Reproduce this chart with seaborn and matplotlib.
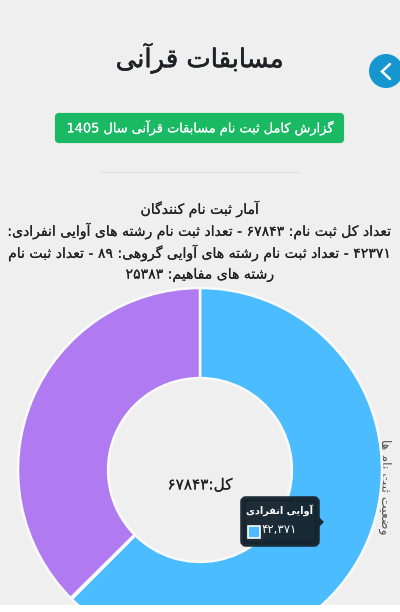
"""
Quran competition registration report, donut of registrations by category
"""
import matplotlib
matplotlib.use("Agg")
import matplotlib.pyplot as plt
import matplotlib.patheffects as pe
import seaborn as sns
from matplotlib.patches import Circle, FancyBboxPatch, Polygon, Rectangle

# data
categories = ['آوایی انفرادی', 'آوایی گروهی', 'مفاهیم']
values = [42371, 89, 25383]
colors = ['#4bbcff', '#7ed6a5', '#b07af0']

title = 'مسابقات قرآنی'
button_text = 'گزارش کامل ثبت نام مسابقات قرآنی سال 1405'
stats_lines = [
    'آمار ثبت نام کنندگان',
    'تعداد کل ثبت نام: ۶۷۸۴۳ - تعداد ثبت نام رشته های آوایی انفرادی:',
    '۴۲۳۷۱ - تعداد ثبت نام رشته های آوایی گروهی: ۸۹ - تعداد ثبت نام',
    'رشته های مفاهیم: ۲۵۳۸۳',
]
center_text = 'کل:۶۷۸۴۳'
side_label = 'وضعیت ثبت نام ها'
tooltip_value = '۴۲,۳۷۱'

BG = '#efefef'

# matplotlib does no Arabic shaping, so pick the joined forms by hand
# letter: (isolated, final, initial, medial), initial None = does not join forward
FORMS = {
    'ا': ('\uFE8D', '\uFE8E', None, None),
    'آ': ('\uFE81', '\uFE82', None, None),
    'ب': ('\uFE8F', '\uFE90', '\uFE91', '\uFE92'),
    'ت': ('\uFE95', '\uFE96', '\uFE97', '\uFE98'),
    'ث': ('\uFE99', '\uFE9A', '\uFE9B', '\uFE9C'),
    'د': ('\uFEA9', '\uFEAA', None, None),
    'ر': ('\uFEAD', '\uFEAE', None, None),
    'ز': ('\uFEAF', '\uFEB0', None, None),
    'س': ('\uFEB1', '\uFEB2', '\uFEB3', '\uFEB4'),
    'ش': ('\uFEB5', '\uFEB6', '\uFEB7', '\uFEB8'),
    'ض': ('\uFEBD', '\uFEBE', '\uFEBF', '\uFEC0'),
    'ع': ('\uFEC9', '\uFECA', '\uFECB', '\uFECC'),
    'ف': ('\uFED1', '\uFED2', '\uFED3', '\uFED4'),
    'ق': ('\uFED5', '\uFED6', '\uFED7', '\uFED8'),
    'ک': ('\uFB8E', '\uFB8F', '\uFB90', '\uFB91'),
    'گ': ('\uFB92', '\uFB93', '\uFB94', '\uFB95'),
    'ل': ('\uFEDD', '\uFEDE', '\uFEDF', '\uFEE0'),
    'م': ('\uFEE1', '\uFEE2', '\uFEE3', '\uFEE4'),
    'ن': ('\uFEE5', '\uFEE6', '\uFEE7', '\uFEE8'),
    'ه': ('\uFEE9', '\uFEEA', '\uFEEB', '\uFEEC'),
    'و': ('\uFEED', '\uFEEE', None, None),
    'ی': ('\uFBFC', '\uFBFD', '\uFBFE', '\uFBFF'),
}
NUMERIC = set('0123456789۰۱۲۳۴۵۶۷۸۹,')


def fa(text):
    # shape the letters, then flip to visual order but keep numbers left to right
    out = []
    for i, ch in enumerate(text):
        if ch not in FORMS:
            out.append(ch)
            continue
        prev = text[i - 1] if i > 0 else ''
        nxt = text[i + 1] if i + 1 < len(text) else ''
        join_prev = prev in FORMS and FORMS[prev][2] is not None
        join_next = nxt in FORMS and FORMS[ch][2] is not None
        if join_prev and join_next:
            out.append(FORMS[ch][3])
        elif join_prev:
            out.append(FORMS[ch][1])
        elif join_next:
            out.append(FORMS[ch][2])
        else:
            out.append(FORMS[ch][0])
    visual = out[::-1]
    result, run = [], []
    for ch in visual:
        if ch in NUMERIC:
            run.append(ch)
        else:
            result.extend(run[::-1])
            run = []
            result.append(ch)
    result.extend(run[::-1])
    return ''.join(result)


def heavier(color, width=0.1):
    # the source font is a touch heavier than DejaVu at these sizes
    return [pe.withStroke(linewidth=width, foreground=color)]


sns.set_theme(style="white")
plt.rcParams['font.family'] = ['DejaVu Sans']

W, H = 400, 612
fig = plt.figure(figsize=(W / 100, H / 100), dpi=100, facecolor=BG)


def pixel_axes(zorder):
    ax = fig.add_axes([0, 0, 1, 1], zorder=zorder)
    ax.set_xlim(0, W)
    ax.set_ylim(H, 0)
    ax.axis('off')
    return ax


# --- page behind the donut ---
back = pixel_axes(0)
back.text(200, 58, fa(title), ha='center', va='center', fontsize=18.6, color='#1f2126',
          path_effects=heavier('#1f2126', 0.4))
back.add_patch(FancyBboxPatch((57, 115), 285, 26, boxstyle='round,pad=0,rounding_size=2',
                              fc='#1ab964', ec='#1ab964', lw=3))
back.text(200, 127.5, fa(button_text), ha='center', va='center', fontsize=9.3, color='white',
          path_effects=heavier('white'))
back.plot([100, 300], [171.5, 171.5], color='#e2e2e2', lw=1)

for y, line in zip([209, 231, 253, 275], stats_lines):
    back.text(200, y, fa(line), ha='center', va='center', fontsize=10.1, color='#222222',
              path_effects=heavier('#222222'))

back.text(385, 487, fa(side_label), ha='center', va='center', rotation=270, fontsize=9,
          color='#555555')

# --- donut ---
R, cx, cy = 182, 200, 470
pie_ax = fig.add_axes([(cx - R) / W, 1 - (cy + R) / H, 2 * R / W, 2 * R / H], zorder=1)
pie_ax.patch.set_alpha(0)
pie_ax.pie(values, colors=colors, startangle=90, counterclock=False, radius=1,
           wedgeprops=dict(width=0.495, edgecolor='#fafafa', linewidth=1.8))
pie_ax.set_xlim(-1, 1)
pie_ax.set_ylim(-1, 1)
for p in pie_ax.patches:
    p.set_clip_on(False)

# --- things on top of the donut ---
top = pixel_axes(2)
top.text(200, 485, fa(center_text), ha='center', va='center', fontsize=11, color='#222222',
         path_effects=heavier('#222222'))

# white strip under the page
top.add_patch(Rectangle((0, 605), W, 7, fc='white', ec='none'))

# back button
top.add_patch(Circle((386, 71), 17, fc='#1596cf', ec='none'))
top.plot([390, 382, 390], [64, 71.5, 79], color='white', lw=1.8, solid_capstyle='round',
         solid_joinstyle='miter')

# tooltip
tip_color = '#15242e'
top.add_patch(FancyBboxPatch((243, 499), 74, 45, boxstyle='round,pad=0,rounding_size=3',
                             fc=tip_color, ec=tip_color, lw=4, alpha=0.96))
top.add_patch(Polygon([[319, 517], [324, 522], [319, 527]], fc=tip_color, ec='none', alpha=0.96))
top.text(280, 510, fa(categories[0]), ha='center', va='center', fontsize=7, color='white',
         fontweight='bold')
top.add_patch(Rectangle((247.5, 525.5), 12.5, 12.5, fc=colors[0], ec='white', lw=1.2))
top.text(262, 530, fa(tooltip_value), ha='left', va='center', fontsize=8.5, color='white')

plt.savefig('out.png', dpi=100, facecolor=BG)
